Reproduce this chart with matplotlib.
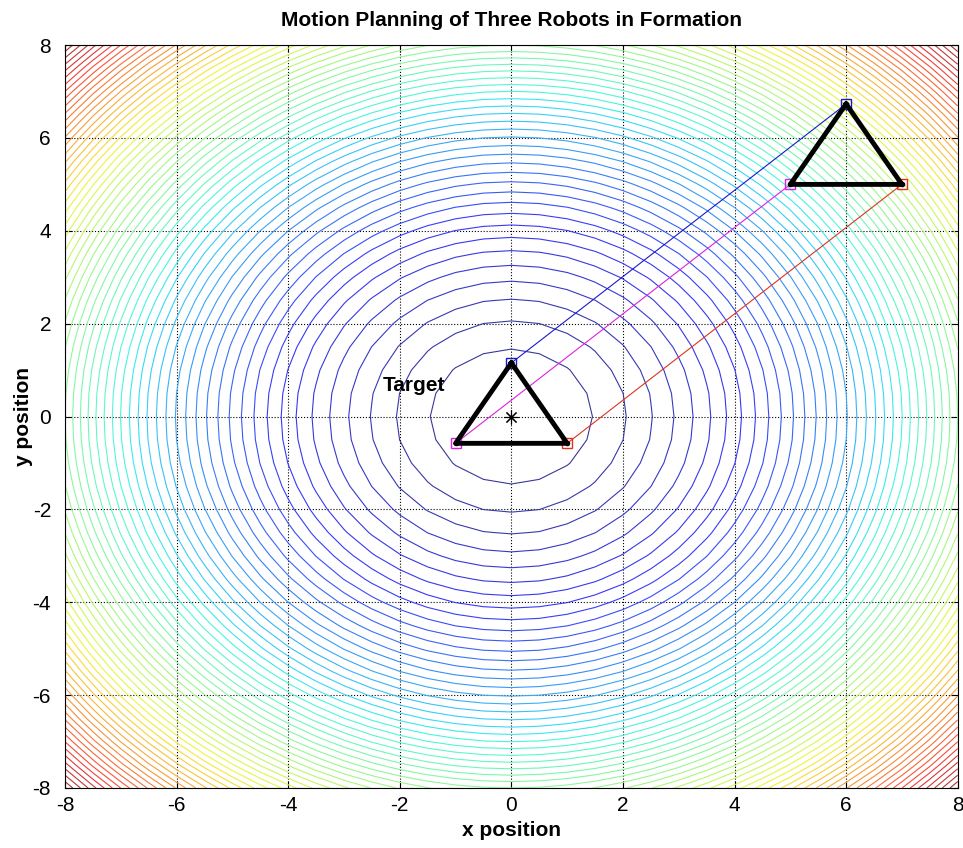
import matplotlib
matplotlib.use("Agg")
import matplotlib.pyplot as plt
import numpy as np

plt.rcParams['font.family'] = ['Liberation Sans', 'DejaVu Sans']
plt.rcParams['axes.unicode_minus'] = False

# robot positions: start and final (target formation)
start_x = [6.0, 5.0, 7.0]
start_y = [6.732, 5.0, 5.0]
final_x = [0.0, -1.0, 1.0]
final_y = [1.155, -0.577, -0.577]
robot_colors = ['#1a1acc', '#dd22dd', '#dd3322']

target_x, target_y = 0.0, 0.0
ticks = [-8, -6, -4, -2, 0, 2, 4, 6, 8]

# potential field
gx = np.arange(-8, 8.01, 0.5)
X, Y = np.meshgrid(gx, gx)
Z = X**2 + Y**2
levels = np.linspace(0, 128, 61)[1:]

# washed-out jet colours for the thin contour lines
jet = plt.get_cmap('jet')
lev_cols = [tuple(0.75 * np.array(jet(v)[:3]) + 0.22) for v in np.linspace(0, 1, len(levels))]

fig = plt.figure(figsize=(9.63, 8.48), dpi=100)
ax = fig.add_axes([0.0675, 0.0708, 0.927, 0.876])

ax.contour(X, Y, Z, levels=levels, colors=lev_cols, linewidths=0.8)

# paths
for i in range(3):
    ax.plot([start_x[i], final_x[i]], [start_y[i], final_y[i]], '-',
            color=robot_colors[i], lw=0.8)
    ax.plot([start_x[i], final_x[i]], [start_y[i], final_y[i]], 's',
            mfc='none', mec=robot_colors[i], ms=7, mew=1)

# formation triangles
for xs, ys in [(start_x, start_y), (final_x, final_y)]:
    ax.plot(xs + [xs[0]], ys + [ys[0]], 'k-', lw=3.5)
    ax.plot(xs, ys, 'k.', ms=6)

ax.plot(target_x, target_y, 'k', marker=(8, 2, 0), ms=10, mew=0.8)
ax.text(-2.3, 0.55, 'Target', fontsize=15, fontweight='bold')

ax.set_xlim(-8, 8)
ax.set_ylim(-8, 8)
ax.set_xticks(ticks)
ax.set_yticks(ticks)
ax.tick_params(direction='in', labelsize=15, length=5, top=True, right=True)
ax.tick_params(axis='x', pad=6)
ax.tick_params(axis='y', pad=10)
ax.grid(True, linestyle=':', color='k', lw=0.8)
ax.set_xlabel('x position', fontsize=15, fontweight='bold', labelpad=4)
ax.set_ylabel('y position', fontsize=15, fontweight='bold', labelpad=0)
ax.set_title('Motion Planning of Three Robots in Formation', fontsize=15,
             fontweight='bold', pad=14)

plt.savefig('out.png', dpi=100)
